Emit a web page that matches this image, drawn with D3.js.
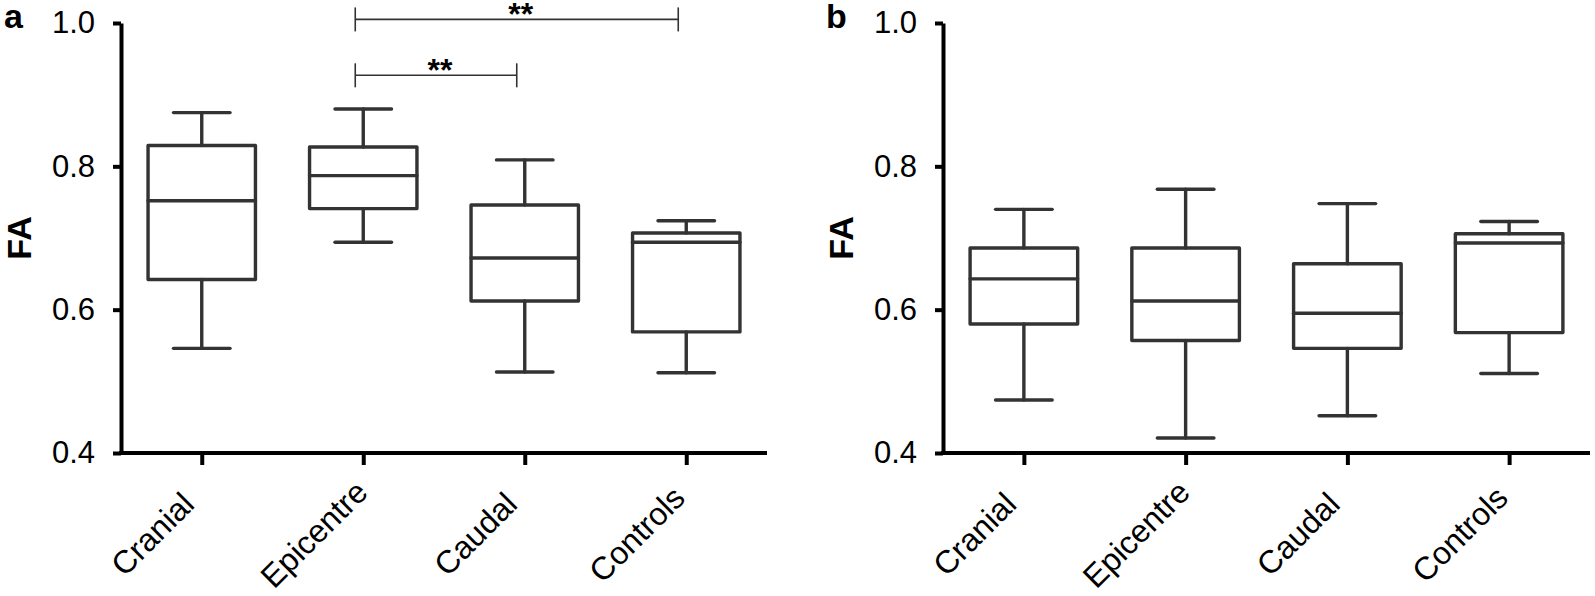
<!DOCTYPE html>
<html>
<head>
<meta charset="utf-8">
<script src="https://cdn.jsdelivr.net/npm/d3@7"></script>
<style>
  html, body { margin: 0; padding: 0; background: #fff; }
  svg { display: block; }
  text { font-family: "Liberation Sans", Arial, sans-serif; fill: #000; }
</style>
</head>
<body>
<svg id="chart" width="1595" height="596"></svg>
<script>
// groups along the x axis
const categories = ['Cranial', 'Epicentre', 'Caudal', 'Controls'];
const yTicks = [0.4, 0.6, 0.8, 1.0];

// panel a: box stats per group
const aMin    = [0.546, 0.694, 0.513, 0.512];
const aQ1     = [0.642, 0.741, 0.612, 0.569];
const aMedian = [0.752, 0.787, 0.672, 0.694];
const aQ3     = [0.829, 0.827, 0.746, 0.707];
const aMax    = [0.875, 0.880, 0.809, 0.724];

// panel b: box stats per group
const bMin    = [0.474, 0.421, 0.452, 0.511];
const bQ1     = [0.580, 0.557, 0.546, 0.568];
const bMedian = [0.643, 0.612, 0.595, 0.693];
const bQ3     = [0.686, 0.686, 0.664, 0.706];
const bMax    = [0.740, 0.768, 0.748, 0.723];

// significance brackets (panel a only)
const sigFrom  = ['Epicentre', 'Epicentre'];
const sigTo    = ['Controls', 'Caudal'];
const sigLevel = [1.005, 0.927];
const sigLabel = ['**', '**'];

const COLORS = {
    box: '#333333',
    axis: '#000000',
    text: '#000000'
};

const svg = d3.select('#chart');

function buildRows (mins, q1s, medians, q3s, maxs) {
    return categories.map((cat, i) => ({
        cat: cat,
        min: mins[i], q1: q1s[i], median: medians[i], q3: q3s[i], max: maxs[i]
    }));
}

function drawPanel (props) {
    var { left, right, top, bottom, letter, rows, brackets } = props;

    var x = d3.scalePoint().domain(categories).range([left, right]).padding(0.5);
    var y = d3.scaleLinear().domain([0.4, 1.0]).range([bottom, top]);
    var step = x.step();
    var boxW = step * 0.665;
    var capW = step * 0.35;

    var g = svg.append('g');

    // y axis
    var yAxis = g.append('g')
        .attr('transform', 'translate(' + left + ',0)')
        .call(d3.axisLeft(y).tickValues(yTicks).tickFormat(d3.format('.1f')).tickSize(8).tickSizeOuter(0).tickPadding(18));
    yAxis.select('.domain').attr('stroke', COLORS.axis).attr('stroke-width', 4);
    yAxis.selectAll('.tick line').attr('stroke', COLORS.axis).attr('stroke-width', 4);
    yAxis.selectAll('.tick text')
        .attr('font-size', 31)
        .attr('font-family', '"Liberation Sans", Arial, sans-serif')
        .attr('fill', COLORS.text);

    // x axis
    var xAxis = g.append('g')
        .attr('transform', 'translate(0,' + bottom + ')')
        .call(d3.axisBottom(x).tickSize(12).tickSizeOuter(0));
    xAxis.select('.domain').attr('stroke', COLORS.axis).attr('stroke-width', 4)
        .attr('d', 'M' + (left - 2) + ',0H' + right);
    xAxis.selectAll('.tick line').attr('stroke', COLORS.axis).attr('stroke-width', 4);
    xAxis.selectAll('.tick text')
        .attr('font-size', 32)
        .attr('font-family', '"Liberation Sans", Arial, sans-serif')
        .attr('fill', COLORS.text)
        .attr('text-anchor', 'middle')
        .attr('dy', null)
        .attr('y', null)
        .attr('transform', 'translate(-42,89) rotate(-45)');

    // axis title
    g.append('text')
        .attr('transform', 'translate(' + (left - 90) + ',' + ((top + bottom) / 2) + ') rotate(-90)')
        .attr('text-anchor', 'middle')
        .attr('font-size', 34)
        .attr('font-weight', 'bold')
        .text('FA');

    // panel letter
    g.append('text')
        .attr('x', left - 117)
        .attr('y', top + 5)
        .attr('font-size', 34)
        .attr('font-weight', 'bold')
        .text(letter);

    // boxes
    var boxes = g.selectAll('.box')
        .data(rows)
        .enter()
        .append('g')
        .attr('class', 'box')
        .attr('stroke', COLORS.box)
        .attr('stroke-width', 3.4)
        .attr('fill', 'none')
        .attr('stroke-linecap', 'round');

    boxes.append('line')
        .attr('x1', d => x(d.cat)).attr('x2', d => x(d.cat))
        .attr('y1', d => y(d.max)).attr('y2', d => y(d.q3));
    boxes.append('line')
        .attr('x1', d => x(d.cat)).attr('x2', d => x(d.cat))
        .attr('y1', d => y(d.q1)).attr('y2', d => y(d.min));
    boxes.append('line')
        .attr('x1', d => x(d.cat) - capW / 2).attr('x2', d => x(d.cat) + capW / 2)
        .attr('y1', d => y(d.max)).attr('y2', d => y(d.max));
    boxes.append('line')
        .attr('x1', d => x(d.cat) - capW / 2).attr('x2', d => x(d.cat) + capW / 2)
        .attr('y1', d => y(d.min)).attr('y2', d => y(d.min));
    boxes.append('rect')
        .attr('x', d => x(d.cat) - boxW / 2)
        .attr('width', boxW)
        .attr('y', d => y(d.q3))
        .attr('height', d => y(d.q1) - y(d.q3))
        .attr('stroke-linejoin', 'round');
    boxes.append('line')
        .attr('x1', d => x(d.cat) - boxW / 2).attr('x2', d => x(d.cat) + boxW / 2)
        .attr('y1', d => y(d.median)).attr('y2', d => y(d.median));

    // significance brackets
    if (brackets) {
        var off = -8;
        var bg = g.selectAll('.sig')
            .data(brackets)
            .enter()
            .append('g')
            .attr('class', 'sig')
            .attr('stroke', COLORS.box)
            .attr('stroke-width', 1.6);
        bg.append('line')
            .attr('x1', d => x(d.from) + off).attr('x2', d => x(d.to) + off)
            .attr('y1', d => y(d.level)).attr('y2', d => y(d.level));
        bg.append('line')
            .attr('x1', d => x(d.from) + off).attr('x2', d => x(d.from) + off)
            .attr('y1', d => y(d.level) - 12).attr('y2', d => y(d.level) + 12);
        bg.append('line')
            .attr('x1', d => x(d.to) + off).attr('x2', d => x(d.to) + off)
            .attr('y1', d => y(d.level) - 12).attr('y2', d => y(d.level) + 12);
        bg.append('text')
            .attr('stroke', 'none')
            .attr('x', d => (x(d.from) + x(d.to)) / 2 + off + 4)
            .attr('y', d => y(d.level) + 6)
            .attr('text-anchor', 'middle')
            .attr('font-size', 32)
            .attr('font-weight', 'bold')
            .text(d => d.label);
    }
}

var bracketsA = sigFrom.map((f, i) => ({ from: f, to: sigTo[i], level: sigLevel[i], label: sigLabel[i] }));

drawPanel({
    left: 121, right: 767, top: 23, bottom: 453, letter: 'a',
    rows: buildRows(aMin, aQ1, aMedian, aQ3, aMax),
    brackets: bracketsA
});

drawPanel({
    left: 943, right: 1590, top: 23, bottom: 453, letter: 'b',
    rows: buildRows(bMin, bQ1, bMedian, bQ3, bMax),
    brackets: null
});
</script>
</body>
</html>
